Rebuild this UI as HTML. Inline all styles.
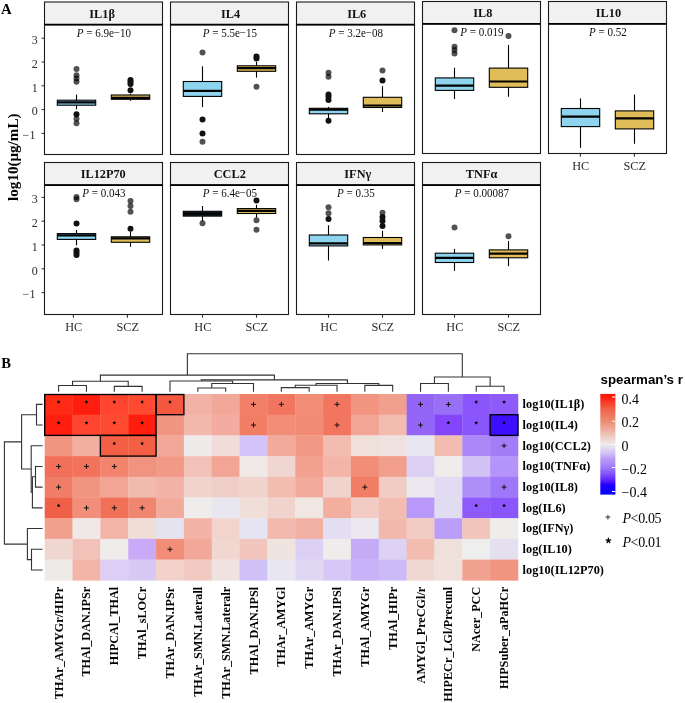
<!DOCTYPE html>
<html><head><meta charset="utf-8"><style>html,body{margin:0;padding:0;background:#fff;width:685px;height:703px;overflow:hidden;}svg{display:block;will-change:transform;}</style></head><body>
<svg width="685" height="703" viewBox="0 0 685 703">
<rect width="685" height="703" fill="#fff"/>
<text x="1" y="13.7" font-family='"Liberation Serif", serif' font-weight="bold" font-size="14.8" fill="#000">A</text>
<text x="1.2" y="367.7" font-family='"Liberation Serif", serif' font-weight="bold" font-size="14.6" fill="#000">B</text>
<text transform="translate(18.2,157.2) rotate(-90)" text-anchor="middle" font-family='"Liberation Serif", serif' font-weight="bold" font-size="15.1" fill="#000">log10(μg/mL)</text>
<rect x="44.5" y="2.0" width="118" height="22.7" fill="#F1F1F1" stroke="#1a1a1a" stroke-width="1.1"/>
<rect x="44.5" y="24.7" width="118" height="129.8" fill="#FFFFFF" stroke="#1a1a1a" stroke-width="1.1"/>
<line x1="44.5" y1="24.7" x2="162.5" y2="24.7" stroke="#000" stroke-width="1.8"/>
<text transform="translate(102.10000000000001,17.9) scale(1,1.05)" text-anchor="middle" font-family='"Liberation Serif", serif' font-weight="bold" font-size="12.3" fill="#111">IL1β</text>
<text transform="translate(103.90,37.0) scale(0.97,1.07)" text-anchor="middle" font-family='"Liberation Serif", serif' font-size="11.4" fill="#111"><tspan font-style="italic">P</tspan> = 6.9e−10</text>
<rect x="170.5" y="2.0" width="118" height="22.7" fill="#F1F1F1" stroke="#1a1a1a" stroke-width="1.1"/>
<rect x="170.5" y="24.7" width="118" height="129.8" fill="#FFFFFF" stroke="#1a1a1a" stroke-width="1.1"/>
<line x1="170.5" y1="24.7" x2="288.5" y2="24.7" stroke="#000" stroke-width="1.8"/>
<text transform="translate(230.5,17.9) scale(1,1.05)" text-anchor="middle" font-family='"Liberation Serif", serif' font-weight="bold" font-size="12.3" fill="#111">IL4</text>
<text transform="translate(229.90,37.0) scale(0.97,1.07)" text-anchor="middle" font-family='"Liberation Serif", serif' font-size="11.4" fill="#111"><tspan font-style="italic">P</tspan> = 5.5e−15</text>
<rect x="296.5" y="2.0" width="118" height="22.7" fill="#F1F1F1" stroke="#1a1a1a" stroke-width="1.1"/>
<rect x="296.5" y="24.7" width="118" height="129.8" fill="#FFFFFF" stroke="#1a1a1a" stroke-width="1.1"/>
<line x1="296.5" y1="24.7" x2="414.5" y2="24.7" stroke="#000" stroke-width="1.8"/>
<text transform="translate(356.7,17.9) scale(1,1.05)" text-anchor="middle" font-family='"Liberation Serif", serif' font-weight="bold" font-size="12.3" fill="#111">IL6</text>
<text transform="translate(355.90,37.0) scale(0.97,1.07)" text-anchor="middle" font-family='"Liberation Serif", serif' font-size="11.4" fill="#111"><tspan font-style="italic">P</tspan> = 3.2e−08</text>
<rect x="422.5" y="1.5" width="118" height="22.3" fill="#F1F1F1" stroke="#1a1a1a" stroke-width="1.1"/>
<rect x="422.5" y="23.8" width="118" height="129.7" fill="#FFFFFF" stroke="#1a1a1a" stroke-width="1.1"/>
<line x1="422.5" y1="23.8" x2="540.5" y2="23.8" stroke="#000" stroke-width="1.8"/>
<text transform="translate(482.8,17.1) scale(1,1.05)" text-anchor="middle" font-family='"Liberation Serif", serif' font-weight="bold" font-size="12.3" fill="#111">IL8</text>
<text transform="translate(481.90,36.1) scale(0.97,1.07)" text-anchor="middle" font-family='"Liberation Serif", serif' font-size="11.4" fill="#111"><tspan font-style="italic">P</tspan> = 0.019</text>
<rect x="548.5" y="1.5" width="118" height="22.3" fill="#F1F1F1" stroke="#1a1a1a" stroke-width="1.1"/>
<rect x="548.5" y="23.8" width="118" height="129.7" fill="#FFFFFF" stroke="#1a1a1a" stroke-width="1.1"/>
<line x1="548.5" y1="23.8" x2="666.5" y2="23.8" stroke="#000" stroke-width="1.8"/>
<text transform="translate(608.4000000000001,17.0) scale(1,1.05)" text-anchor="middle" font-family='"Liberation Serif", serif' font-weight="bold" font-size="12.3" fill="#111">IL10</text>
<text transform="translate(607.90,36.1) scale(0.97,1.07)" text-anchor="middle" font-family='"Liberation Serif", serif' font-size="11.4" fill="#111"><tspan font-style="italic">P</tspan> = 0.52</text>
<rect x="44.5" y="162.5" width="118" height="22.69999999999999" fill="#F1F1F1" stroke="#1a1a1a" stroke-width="1.1"/>
<rect x="44.5" y="185.2" width="118" height="129.3" fill="#FFFFFF" stroke="#1a1a1a" stroke-width="1.1"/>
<line x1="44.5" y1="185.2" x2="162.5" y2="185.2" stroke="#000" stroke-width="1.8"/>
<text transform="translate(103.2,178.0) scale(1,1.05)" text-anchor="middle" font-family='"Liberation Serif", serif' font-weight="bold" font-size="12.3" fill="#111">IL12P70</text>
<text transform="translate(103.90,197.3) scale(0.97,1.07)" text-anchor="middle" font-family='"Liberation Serif", serif' font-size="11.4" fill="#111"><tspan font-style="italic">P</tspan> = 0.043</text>
<rect x="170.5" y="162.5" width="118" height="22.69999999999999" fill="#F1F1F1" stroke="#1a1a1a" stroke-width="1.1"/>
<rect x="170.5" y="185.2" width="118" height="129.3" fill="#FFFFFF" stroke="#1a1a1a" stroke-width="1.1"/>
<line x1="170.5" y1="185.2" x2="288.5" y2="185.2" stroke="#000" stroke-width="1.8"/>
<text transform="translate(229.79999999999998,178.0) scale(1,1.05)" text-anchor="middle" font-family='"Liberation Serif", serif' font-weight="bold" font-size="12.3" fill="#111">CCL2</text>
<text transform="translate(229.90,197.3) scale(0.97,1.07)" text-anchor="middle" font-family='"Liberation Serif", serif' font-size="11.4" fill="#111"><tspan font-style="italic">P</tspan> = 6.4e−05</text>
<rect x="296.5" y="162.5" width="118" height="22.69999999999999" fill="#F1F1F1" stroke="#1a1a1a" stroke-width="1.1"/>
<rect x="296.5" y="185.2" width="118" height="129.3" fill="#FFFFFF" stroke="#1a1a1a" stroke-width="1.1"/>
<line x1="296.5" y1="185.2" x2="414.5" y2="185.2" stroke="#000" stroke-width="1.8"/>
<text transform="translate(357.8,178.0) scale(1,1.05)" text-anchor="middle" font-family='"Liberation Serif", serif' font-weight="bold" font-size="12.3" fill="#111">IFNγ</text>
<text transform="translate(355.90,197.3) scale(0.97,1.07)" text-anchor="middle" font-family='"Liberation Serif", serif' font-size="11.4" fill="#111"><tspan font-style="italic">P</tspan> = 0.35</text>
<rect x="422.5" y="162.5" width="118" height="22.69999999999999" fill="#F1F1F1" stroke="#1a1a1a" stroke-width="1.1"/>
<rect x="422.5" y="185.2" width="118" height="129.3" fill="#FFFFFF" stroke="#1a1a1a" stroke-width="1.1"/>
<line x1="422.5" y1="185.2" x2="540.5" y2="185.2" stroke="#000" stroke-width="1.8"/>
<text transform="translate(481.59999999999997,178.0) scale(1,1.05)" text-anchor="middle" font-family='"Liberation Serif", serif' font-weight="bold" font-size="12.3" fill="#111">TNFα</text>
<text transform="translate(481.90,197.3) scale(0.97,1.07)" text-anchor="middle" font-family='"Liberation Serif", serif' font-size="11.4" fill="#111"><tspan font-style="italic">P</tspan> = 0.00087</text>
<line x1="41.6" y1="38.20" x2="44.5" y2="38.20" stroke="#333" stroke-width="1.1"/>
<text x="37.8" y="44.00" text-anchor="end" font-family='"Liberation Serif", serif' font-size="12" fill="#2B2B2B">3</text>
<line x1="41.6" y1="62.00" x2="44.5" y2="62.00" stroke="#333" stroke-width="1.1"/>
<text x="37.8" y="67.80" text-anchor="end" font-family='"Liberation Serif", serif' font-size="12" fill="#2B2B2B">2</text>
<line x1="41.6" y1="85.80" x2="44.5" y2="85.80" stroke="#333" stroke-width="1.1"/>
<text x="37.8" y="91.60" text-anchor="end" font-family='"Liberation Serif", serif' font-size="12" fill="#2B2B2B">1</text>
<line x1="41.6" y1="109.60" x2="44.5" y2="109.60" stroke="#333" stroke-width="1.1"/>
<text x="37.8" y="115.40" text-anchor="end" font-family='"Liberation Serif", serif' font-size="12" fill="#2B2B2B">0</text>
<line x1="41.6" y1="133.40" x2="44.5" y2="133.40" stroke="#333" stroke-width="1.1"/>
<text x="35.4" y="139.20" text-anchor="end" font-family='"Liberation Serif", serif' font-size="12" fill="#2B2B2B">−1</text>
<line x1="41.6" y1="197.40" x2="44.5" y2="197.40" stroke="#333" stroke-width="1.1"/>
<text x="37.8" y="203.20" text-anchor="end" font-family='"Liberation Serif", serif' font-size="12" fill="#2B2B2B">3</text>
<line x1="41.6" y1="221.20" x2="44.5" y2="221.20" stroke="#333" stroke-width="1.1"/>
<text x="37.8" y="227.00" text-anchor="end" font-family='"Liberation Serif", serif' font-size="12" fill="#2B2B2B">2</text>
<line x1="41.6" y1="245.00" x2="44.5" y2="245.00" stroke="#333" stroke-width="1.1"/>
<text x="37.8" y="250.80" text-anchor="end" font-family='"Liberation Serif", serif' font-size="12" fill="#2B2B2B">1</text>
<line x1="41.6" y1="268.80" x2="44.5" y2="268.80" stroke="#333" stroke-width="1.1"/>
<text x="37.8" y="274.60" text-anchor="end" font-family='"Liberation Serif", serif' font-size="12" fill="#2B2B2B">0</text>
<line x1="41.6" y1="292.60" x2="44.5" y2="292.60" stroke="#333" stroke-width="1.1"/>
<text x="35.4" y="298.40" text-anchor="end" font-family='"Liberation Serif", serif' font-size="12" fill="#2B2B2B">−1</text>
<line x1="580.4" y1="153.5" x2="580.4" y2="156.7" stroke="#333" stroke-width="1.1"/>
<text x="580.6999999999999" y="169.7" text-anchor="middle" font-family='"Liberation Serif", serif' font-size="12.3" fill="#2B2B2B">HC</text>
<line x1="634.4" y1="153.5" x2="634.4" y2="156.7" stroke="#333" stroke-width="1.1"/>
<text x="634.6999999999999" y="169.7" text-anchor="middle" font-family='"Liberation Serif", serif' font-size="12.3" fill="#2B2B2B">SCZ</text>
<line x1="73.4" y1="314.5" x2="73.4" y2="317.7" stroke="#333" stroke-width="1.1"/>
<text x="73.7" y="330.7" text-anchor="middle" font-family='"Liberation Serif", serif' font-size="12.3" fill="#2B2B2B">HC</text>
<line x1="127.4" y1="314.5" x2="127.4" y2="317.7" stroke="#333" stroke-width="1.1"/>
<text x="127.7" y="330.7" text-anchor="middle" font-family='"Liberation Serif", serif' font-size="12.3" fill="#2B2B2B">SCZ</text>
<line x1="202.5" y1="314.5" x2="202.5" y2="317.7" stroke="#333" stroke-width="1.1"/>
<text x="202.8" y="330.7" text-anchor="middle" font-family='"Liberation Serif", serif' font-size="12.3" fill="#2B2B2B">HC</text>
<line x1="256.5" y1="314.5" x2="256.5" y2="317.7" stroke="#333" stroke-width="1.1"/>
<text x="256.8" y="330.7" text-anchor="middle" font-family='"Liberation Serif", serif' font-size="12.3" fill="#2B2B2B">SCZ</text>
<line x1="328.5" y1="314.5" x2="328.5" y2="317.7" stroke="#333" stroke-width="1.1"/>
<text x="328.8" y="330.7" text-anchor="middle" font-family='"Liberation Serif", serif' font-size="12.3" fill="#2B2B2B">HC</text>
<line x1="382.5" y1="314.5" x2="382.5" y2="317.7" stroke="#333" stroke-width="1.1"/>
<text x="382.8" y="330.7" text-anchor="middle" font-family='"Liberation Serif", serif' font-size="12.3" fill="#2B2B2B">SCZ</text>
<line x1="454.5" y1="314.5" x2="454.5" y2="317.7" stroke="#333" stroke-width="1.1"/>
<text x="454.8" y="330.7" text-anchor="middle" font-family='"Liberation Serif", serif' font-size="12.3" fill="#2B2B2B">HC</text>
<line x1="508.5" y1="314.5" x2="508.5" y2="317.7" stroke="#333" stroke-width="1.1"/>
<text x="508.8" y="330.7" text-anchor="middle" font-family='"Liberation Serif", serif' font-size="12.3" fill="#2B2B2B">SCZ</text>
<line x1="76.5" y1="94.6" x2="76.5" y2="109.3" stroke="#000" stroke-width="1.1"/>
<rect x="57.3" y="100.2" width="38.4" height="5.0" fill="#8FD4EF" stroke="#000" stroke-width="1.1"/>
<line x1="57.3" y1="102.4" x2="95.7" y2="102.4" stroke="#000" stroke-width="2.2"/>
<circle cx="76.5" cy="69" r="3.0" fill="rgba(0,0,0,0.68)"/>
<circle cx="76.5" cy="75.2" r="3.0" fill="rgba(0,0,0,0.68)"/>
<circle cx="76.5" cy="78.6" r="3.0" fill="rgba(0,0,0,0.68)"/>
<circle cx="76.5" cy="81.8" r="3.0" fill="rgba(0,0,0,0.68)"/>
<circle cx="76.5" cy="114.2" r="3.0" fill="#111"/>
<circle cx="76.5" cy="118.7" r="3.0" fill="rgba(0,0,0,0.68)"/>
<circle cx="76.5" cy="123.2" r="3.0" fill="rgba(0,0,0,0.68)"/>
<line x1="130.5" y1="93.8" x2="130.5" y2="100.8" stroke="#000" stroke-width="1.1"/>
<rect x="111.3" y="95" width="38.4" height="4.299999999999997" fill="#E0BD58" stroke="#000" stroke-width="1.1"/>
<line x1="111.3" y1="97.9" x2="149.7" y2="97.9" stroke="#000" stroke-width="2.2"/>
<circle cx="130.5" cy="79.9" r="3.0" fill="#111"/>
<circle cx="130.5" cy="81.9" r="3.0" fill="#111"/>
<circle cx="130.5" cy="83.9" r="3.0" fill="#111"/>
<circle cx="130.5" cy="90.3" r="3.0" fill="#111"/>
<line x1="202.5" y1="66.3" x2="202.5" y2="107.1" stroke="#000" stroke-width="1.1"/>
<rect x="183.3" y="81.5" width="38.4" height="14.900000000000006" fill="#8FD4EF" stroke="#000" stroke-width="1.1"/>
<line x1="183.3" y1="90.9" x2="221.7" y2="90.9" stroke="#000" stroke-width="2.2"/>
<circle cx="202.5" cy="52.5" r="3.0" fill="rgba(0,0,0,0.68)"/>
<circle cx="202.5" cy="119.6" r="3.0" fill="#111"/>
<circle cx="202.5" cy="133.5" r="3.0" fill="#111"/>
<circle cx="202.5" cy="141.8" r="3.0" fill="rgba(0,0,0,0.68)"/>
<line x1="256.5" y1="61.9" x2="256.5" y2="77.6" stroke="#000" stroke-width="1.1"/>
<rect x="237.3" y="65.8" width="38.4" height="5.5" fill="#E0BD58" stroke="#000" stroke-width="1.1"/>
<line x1="237.3" y1="68.1" x2="275.7" y2="68.1" stroke="#000" stroke-width="2.2"/>
<circle cx="256.5" cy="56.5" r="3.0" fill="#111"/>
<circle cx="256.5" cy="58.5" r="3.0" fill="#111"/>
<circle cx="256.5" cy="86.7" r="3.0" fill="rgba(0,0,0,0.68)"/>
<line x1="328.5" y1="106.9" x2="328.5" y2="118.3" stroke="#000" stroke-width="1.1"/>
<rect x="309.3" y="108.3" width="38.4" height="5.5" fill="#8FD4EF" stroke="#000" stroke-width="1.1"/>
<line x1="309.3" y1="109.6" x2="347.7" y2="109.6" stroke="#000" stroke-width="2.2"/>
<circle cx="328.5" cy="72.8" r="3.0" fill="rgba(0,0,0,0.68)"/>
<circle cx="328.5" cy="76.8" r="3.0" fill="rgba(0,0,0,0.68)"/>
<circle cx="328.5" cy="94.4" r="3.0" fill="#111"/>
<circle cx="328.5" cy="96.7" r="3.0" fill="#111"/>
<circle cx="328.5" cy="100.1" r="3.0" fill="#111"/>
<circle cx="328.5" cy="120.8" r="3.0" fill="#111"/>
<line x1="382.5" y1="86.2" x2="382.5" y2="112" stroke="#000" stroke-width="1.1"/>
<rect x="363.3" y="97.3" width="38.4" height="10.200000000000003" fill="#E0BD58" stroke="#000" stroke-width="1.1"/>
<line x1="363.3" y1="105.5" x2="401.7" y2="105.5" stroke="#000" stroke-width="2.2"/>
<circle cx="382.5" cy="70.5" r="3.0" fill="rgba(0,0,0,0.68)"/>
<circle cx="382.5" cy="80.5" r="3.0" fill="#111"/>
<line x1="454.5" y1="67.7" x2="454.5" y2="99" stroke="#000" stroke-width="1.1"/>
<rect x="435.3" y="77.9" width="38.4" height="12.5" fill="#8FD4EF" stroke="#000" stroke-width="1.1"/>
<line x1="435.3" y1="85.7" x2="473.7" y2="85.7" stroke="#000" stroke-width="2.2"/>
<circle cx="454.5" cy="30.3" r="3.0" fill="rgba(0,0,0,0.68)"/>
<circle cx="454.5" cy="46.7" r="3.0" fill="rgba(0,0,0,0.68)"/>
<circle cx="454.5" cy="50.1" r="3.0" fill="rgba(0,0,0,0.68)"/>
<circle cx="454.5" cy="53.6" r="3.0" fill="rgba(0,0,0,0.68)"/>
<line x1="508.5" y1="44.9" x2="508.5" y2="96.8" stroke="#000" stroke-width="1.1"/>
<rect x="489.3" y="68.1" width="38.4" height="19.200000000000003" fill="#E0BD58" stroke="#000" stroke-width="1.1"/>
<line x1="489.3" y1="81.5" x2="527.7" y2="81.5" stroke="#000" stroke-width="2.2"/>
<circle cx="508.5" cy="36.1" r="3.0" fill="rgba(0,0,0,0.68)"/>
<line x1="580.5" y1="98.4" x2="580.5" y2="147.8" stroke="#000" stroke-width="1.1"/>
<rect x="561.3" y="108.5" width="38.4" height="18.099999999999994" fill="#8FD4EF" stroke="#000" stroke-width="1.1"/>
<line x1="561.3" y1="116.6" x2="599.7" y2="116.6" stroke="#000" stroke-width="2.2"/>
<line x1="634.5" y1="94.5" x2="634.5" y2="143.8" stroke="#000" stroke-width="1.1"/>
<rect x="615.3" y="110.9" width="38.4" height="18.0" fill="#E0BD58" stroke="#000" stroke-width="1.1"/>
<line x1="615.3" y1="118.4" x2="653.7" y2="118.4" stroke="#000" stroke-width="2.2"/>
<line x1="76.5" y1="230" x2="76.5" y2="245.3" stroke="#000" stroke-width="1.1"/>
<rect x="57.3" y="233.6" width="38.4" height="5.800000000000011" fill="#8FD4EF" stroke="#000" stroke-width="1.1"/>
<line x1="57.3" y1="235.4" x2="95.7" y2="235.4" stroke="#000" stroke-width="2.2"/>
<circle cx="76.5" cy="197" r="3.0" fill="rgba(0,0,0,0.68)"/>
<circle cx="76.5" cy="199.2" r="3.0" fill="rgba(0,0,0,0.68)"/>
<circle cx="76.5" cy="223.4" r="3.0" fill="#111"/>
<circle cx="76.5" cy="250.5" r="3.0" fill="#111"/>
<circle cx="76.5" cy="252.7" r="3.0" fill="#111"/>
<circle cx="76.5" cy="255" r="3.0" fill="#111"/>
<line x1="130.5" y1="231.7" x2="130.5" y2="246.8" stroke="#000" stroke-width="1.1"/>
<rect x="111.3" y="236.8" width="38.4" height="5.5" fill="#E0BD58" stroke="#000" stroke-width="1.1"/>
<line x1="111.3" y1="238.3" x2="149.7" y2="238.3" stroke="#000" stroke-width="2.2"/>
<circle cx="130.5" cy="201" r="3.0" fill="rgba(0,0,0,0.68)"/>
<circle cx="130.5" cy="206.1" r="3.0" fill="rgba(0,0,0,0.68)"/>
<circle cx="130.5" cy="211.8" r="3.0" fill="rgba(0,0,0,0.68)"/>
<circle cx="130.5" cy="228.8" r="3.0" fill="#111"/>
<line x1="202.5" y1="206" x2="202.5" y2="221.1" stroke="#000" stroke-width="1.1"/>
<rect x="183.3" y="211.3" width="38.4" height="4.799999999999983" fill="#16262c" stroke="#000" stroke-width="1.1"/>
<line x1="183.3" y1="213.7" x2="221.7" y2="213.7" stroke="#000" stroke-width="2.2"/>
<circle cx="202.5" cy="223.3" r="3.0" fill="rgba(0,0,0,0.68)"/>
<line x1="256.5" y1="204.8" x2="256.5" y2="217.7" stroke="#000" stroke-width="1.1"/>
<rect x="237.3" y="208.6" width="38.4" height="4.900000000000006" fill="#E0BD58" stroke="#000" stroke-width="1.1"/>
<line x1="237.3" y1="210.9" x2="275.7" y2="210.9" stroke="#000" stroke-width="2.2"/>
<circle cx="256.5" cy="200.6" r="3.0" fill="#111"/>
<circle cx="256.5" cy="220.3" r="3.0" fill="rgba(0,0,0,0.68)"/>
<circle cx="256.5" cy="229.8" r="3.0" fill="rgba(0,0,0,0.68)"/>
<line x1="328.5" y1="225.3" x2="328.5" y2="260.5" stroke="#000" stroke-width="1.1"/>
<rect x="309.3" y="235" width="38.4" height="10.900000000000006" fill="#8FD4EF" stroke="#000" stroke-width="1.1"/>
<line x1="309.3" y1="243.3" x2="347.7" y2="243.3" stroke="#000" stroke-width="2.2"/>
<circle cx="328.5" cy="207.3" r="3.0" fill="rgba(0,0,0,0.68)"/>
<circle cx="328.5" cy="213.2" r="3.0" fill="rgba(0,0,0,0.68)"/>
<circle cx="328.5" cy="219.1" r="3.0" fill="#111"/>
<line x1="382.5" y1="230.7" x2="382.5" y2="248.8" stroke="#000" stroke-width="1.1"/>
<rect x="363.3" y="237.5" width="38.4" height="7.400000000000006" fill="#E0BD58" stroke="#000" stroke-width="1.1"/>
<line x1="363.3" y1="243.0" x2="401.7" y2="243.0" stroke="#000" stroke-width="2.2"/>
<circle cx="382.5" cy="212.7" r="3.0" fill="rgba(0,0,0,0.68)"/>
<circle cx="382.5" cy="216.9" r="3.0" fill="#111"/>
<circle cx="382.5" cy="221.1" r="3.0" fill="#111"/>
<circle cx="382.5" cy="226.1" r="3.0" fill="#111"/>
<line x1="454.5" y1="249" x2="454.5" y2="270.9" stroke="#000" stroke-width="1.1"/>
<rect x="435.3" y="253.2" width="38.4" height="9.300000000000011" fill="#8FD4EF" stroke="#000" stroke-width="1.1"/>
<line x1="435.3" y1="257.8" x2="473.7" y2="257.8" stroke="#000" stroke-width="2.2"/>
<circle cx="454.5" cy="227.6" r="3.0" fill="rgba(0,0,0,0.68)"/>
<line x1="508.5" y1="241" x2="508.5" y2="266.2" stroke="#000" stroke-width="1.1"/>
<rect x="489.3" y="249.9" width="38.4" height="7.900000000000006" fill="#E0BD58" stroke="#000" stroke-width="1.1"/>
<line x1="489.3" y1="253.6" x2="527.7" y2="253.6" stroke="#000" stroke-width="2.2"/>
<circle cx="508.5" cy="236.3" r="3.0" fill="rgba(0,0,0,0.68)"/>
<rect x="44.70" y="394.00" width="28.14" height="21.00" fill="#FF2A14"/>
<rect x="72.54" y="394.00" width="28.14" height="21.00" fill="#FF1E0E"/>
<rect x="100.38" y="394.00" width="28.14" height="21.00" fill="#FF4530"/>
<rect x="128.22" y="394.00" width="28.14" height="21.00" fill="#FF4A32"/>
<rect x="156.06" y="394.00" width="28.14" height="21.00" fill="#F5583E"/>
<rect x="183.90" y="394.00" width="28.14" height="21.00" fill="#F2B3A6"/>
<rect x="211.74" y="394.00" width="28.14" height="21.00" fill="#F2A898"/>
<rect x="239.58" y="394.00" width="28.14" height="21.00" fill="#F28068"/>
<rect x="267.42" y="394.00" width="28.14" height="21.00" fill="#F27560"/>
<rect x="295.26" y="394.00" width="28.14" height="21.00" fill="#F28E78"/>
<rect x="323.10" y="394.00" width="28.14" height="21.00" fill="#F27560"/>
<rect x="350.94" y="394.00" width="28.14" height="21.00" fill="#F29580"/>
<rect x="378.78" y="394.00" width="28.14" height="21.00" fill="#F2A08E"/>
<rect x="406.62" y="394.00" width="28.14" height="21.00" fill="#9366F8"/>
<rect x="434.46" y="394.00" width="28.14" height="21.00" fill="#9A6FF8"/>
<rect x="462.30" y="394.00" width="28.14" height="21.00" fill="#8A55FA"/>
<rect x="490.14" y="394.00" width="28.14" height="21.00" fill="#8E5AFA"/>
<rect x="44.70" y="414.70" width="28.14" height="21.00" fill="#FF1E10"/>
<rect x="72.54" y="414.70" width="28.14" height="21.00" fill="#FF4530"/>
<rect x="100.38" y="414.70" width="28.14" height="21.00" fill="#FF4A32"/>
<rect x="128.22" y="414.70" width="28.14" height="21.00" fill="#FF1E0E"/>
<rect x="156.06" y="414.70" width="28.14" height="21.00" fill="#F29580"/>
<rect x="183.90" y="414.70" width="28.14" height="21.00" fill="#F2B8AC"/>
<rect x="211.74" y="414.70" width="28.14" height="21.00" fill="#F2ACA0"/>
<rect x="239.58" y="414.70" width="28.14" height="21.00" fill="#F27D65"/>
<rect x="267.42" y="414.70" width="28.14" height="21.00" fill="#F28E78"/>
<rect x="295.26" y="414.70" width="28.14" height="21.00" fill="#F28B75"/>
<rect x="323.10" y="414.70" width="28.14" height="21.00" fill="#F27560"/>
<rect x="350.94" y="414.70" width="28.14" height="21.00" fill="#F2A595"/>
<rect x="378.78" y="414.70" width="28.14" height="21.00" fill="#F2BCB0"/>
<rect x="406.62" y="414.70" width="28.14" height="21.00" fill="#9366F8"/>
<rect x="434.46" y="414.70" width="28.14" height="21.00" fill="#8445FA"/>
<rect x="462.30" y="414.70" width="28.14" height="21.00" fill="#8A55FA"/>
<rect x="490.14" y="414.70" width="28.14" height="21.00" fill="#3D0DFF"/>
<rect x="44.70" y="435.40" width="28.14" height="21.00" fill="#F29580"/>
<rect x="72.54" y="435.40" width="28.14" height="21.00" fill="#F2AE9E"/>
<rect x="100.38" y="435.40" width="28.14" height="21.00" fill="#F25F44"/>
<rect x="128.22" y="435.40" width="28.14" height="21.00" fill="#F25F44"/>
<rect x="156.06" y="435.40" width="28.14" height="21.00" fill="#F2A898"/>
<rect x="183.90" y="435.40" width="28.14" height="21.00" fill="#EEEBEA"/>
<rect x="211.74" y="435.40" width="28.14" height="21.00" fill="#F0DCD8"/>
<rect x="239.58" y="435.40" width="28.14" height="21.00" fill="#D3C3F8"/>
<rect x="267.42" y="435.40" width="28.14" height="21.00" fill="#F2AA9A"/>
<rect x="295.26" y="435.40" width="28.14" height="21.00" fill="#F29985"/>
<rect x="323.10" y="435.40" width="28.14" height="21.00" fill="#F2BCB0"/>
<rect x="350.94" y="435.40" width="28.14" height="21.00" fill="#F0E0DA"/>
<rect x="378.78" y="435.40" width="28.14" height="21.00" fill="#F0E2DE"/>
<rect x="406.62" y="435.40" width="28.14" height="21.00" fill="#E8E6F0"/>
<rect x="434.46" y="435.40" width="28.14" height="21.00" fill="#F2BCB0"/>
<rect x="462.30" y="435.40" width="28.14" height="21.00" fill="#AA88F8"/>
<rect x="490.14" y="435.40" width="28.14" height="21.00" fill="#A37DF8"/>
<rect x="44.70" y="456.10" width="28.14" height="21.00" fill="#F2705A"/>
<rect x="72.54" y="456.10" width="28.14" height="21.00" fill="#F2725B"/>
<rect x="100.38" y="456.10" width="28.14" height="21.00" fill="#F2846E"/>
<rect x="128.22" y="456.10" width="28.14" height="21.00" fill="#F29380"/>
<rect x="156.06" y="456.10" width="28.14" height="21.00" fill="#F29A87"/>
<rect x="183.90" y="456.10" width="28.14" height="21.00" fill="#F2C2B8"/>
<rect x="211.74" y="456.10" width="28.14" height="21.00" fill="#F2A595"/>
<rect x="239.58" y="456.10" width="28.14" height="21.00" fill="#F0E9E8"/>
<rect x="267.42" y="456.10" width="28.14" height="21.00" fill="#F0D6D0"/>
<rect x="295.26" y="456.10" width="28.14" height="21.00" fill="#F2A090"/>
<rect x="323.10" y="456.10" width="28.14" height="21.00" fill="#F2B5A8"/>
<rect x="350.94" y="456.10" width="28.14" height="21.00" fill="#F28E78"/>
<rect x="378.78" y="456.10" width="28.14" height="21.00" fill="#F29E8C"/>
<rect x="406.62" y="456.10" width="28.14" height="21.00" fill="#DCD0F4"/>
<rect x="434.46" y="456.10" width="28.14" height="21.00" fill="#EEEDEC"/>
<rect x="462.30" y="456.10" width="28.14" height="21.00" fill="#D2C2F6"/>
<rect x="490.14" y="456.10" width="28.14" height="21.00" fill="#B394F8"/>
<rect x="44.70" y="476.80" width="28.14" height="21.00" fill="#F07E66"/>
<rect x="72.54" y="476.80" width="28.14" height="21.00" fill="#F29580"/>
<rect x="100.38" y="476.80" width="28.14" height="21.00" fill="#F2A595"/>
<rect x="128.22" y="476.80" width="28.14" height="21.00" fill="#F2BAAE"/>
<rect x="156.06" y="476.80" width="28.14" height="21.00" fill="#F2B3A6"/>
<rect x="183.90" y="476.80" width="28.14" height="21.00" fill="#F0D3CC"/>
<rect x="211.74" y="476.80" width="28.14" height="21.00" fill="#F0CEC8"/>
<rect x="239.58" y="476.80" width="28.14" height="21.00" fill="#F0D3CC"/>
<rect x="267.42" y="476.80" width="28.14" height="21.00" fill="#F2BCB0"/>
<rect x="295.26" y="476.80" width="28.14" height="21.00" fill="#F2AA9A"/>
<rect x="323.10" y="476.80" width="28.14" height="21.00" fill="#F0D3CC"/>
<rect x="350.94" y="476.80" width="28.14" height="21.00" fill="#F27D65"/>
<rect x="378.78" y="476.80" width="28.14" height="21.00" fill="#F2CCC4"/>
<rect x="406.62" y="476.80" width="28.14" height="21.00" fill="#EAE8EE"/>
<rect x="434.46" y="476.80" width="28.14" height="21.00" fill="#E2DCF2"/>
<rect x="462.30" y="476.80" width="28.14" height="21.00" fill="#AE8EF8"/>
<rect x="490.14" y="476.80" width="28.14" height="21.00" fill="#9E78F8"/>
<rect x="44.70" y="497.50" width="28.14" height="21.00" fill="#F06048"/>
<rect x="72.54" y="497.50" width="28.14" height="21.00" fill="#F28F7A"/>
<rect x="100.38" y="497.50" width="28.14" height="21.00" fill="#F07058"/>
<rect x="128.22" y="497.50" width="28.14" height="21.00" fill="#F08570"/>
<rect x="156.06" y="497.50" width="28.14" height="21.00" fill="#F2AA9A"/>
<rect x="183.90" y="497.50" width="28.14" height="21.00" fill="#F0ECEC"/>
<rect x="211.74" y="497.50" width="28.14" height="21.00" fill="#E8E6EE"/>
<rect x="239.58" y="497.50" width="28.14" height="21.00" fill="#F0DED8"/>
<rect x="267.42" y="497.50" width="28.14" height="21.00" fill="#F0D3CC"/>
<rect x="295.26" y="497.50" width="28.14" height="21.00" fill="#F0E6E2"/>
<rect x="323.10" y="497.50" width="28.14" height="21.00" fill="#F2AE9F"/>
<rect x="350.94" y="497.50" width="28.14" height="21.00" fill="#F2CCC4"/>
<rect x="378.78" y="497.50" width="28.14" height="21.00" fill="#F2BCB0"/>
<rect x="406.62" y="497.50" width="28.14" height="21.00" fill="#B898F8"/>
<rect x="434.46" y="497.50" width="28.14" height="21.00" fill="#E2DCF2"/>
<rect x="462.30" y="497.50" width="28.14" height="21.00" fill="#8E5AFA"/>
<rect x="490.14" y="497.50" width="28.14" height="21.00" fill="#8A55FA"/>
<rect x="44.70" y="518.20" width="28.14" height="21.00" fill="#F2A08E"/>
<rect x="72.54" y="518.20" width="28.14" height="21.00" fill="#EFE8E6"/>
<rect x="100.38" y="518.20" width="28.14" height="21.00" fill="#F2B5A8"/>
<rect x="128.22" y="518.20" width="28.14" height="21.00" fill="#F0DDD8"/>
<rect x="156.06" y="518.20" width="28.14" height="21.00" fill="#E6E3F0"/>
<rect x="183.90" y="518.20" width="28.14" height="21.00" fill="#F2B3A6"/>
<rect x="211.74" y="518.20" width="28.14" height="21.00" fill="#F2D4CC"/>
<rect x="239.58" y="518.20" width="28.14" height="21.00" fill="#E6E3F2"/>
<rect x="267.42" y="518.20" width="28.14" height="21.00" fill="#F2BAAE"/>
<rect x="295.26" y="518.20" width="28.14" height="21.00" fill="#F2B0A2"/>
<rect x="323.10" y="518.20" width="28.14" height="21.00" fill="#E4DEF2"/>
<rect x="350.94" y="518.20" width="28.14" height="21.00" fill="#EAE8EE"/>
<rect x="378.78" y="518.20" width="28.14" height="21.00" fill="#F2B8AC"/>
<rect x="406.62" y="518.20" width="28.14" height="21.00" fill="#F2CCC4"/>
<rect x="434.46" y="518.20" width="28.14" height="21.00" fill="#BB9EF8"/>
<rect x="462.30" y="518.20" width="28.14" height="21.00" fill="#F2C6BC"/>
<rect x="490.14" y="518.20" width="28.14" height="21.00" fill="#EFEDEC"/>
<rect x="44.70" y="538.90" width="28.14" height="21.00" fill="#F0D6D0"/>
<rect x="72.54" y="538.90" width="28.14" height="21.00" fill="#F2C2B8"/>
<rect x="100.38" y="538.90" width="28.14" height="21.00" fill="#EEEDEC"/>
<rect x="128.22" y="538.90" width="28.14" height="21.00" fill="#C8AAF8"/>
<rect x="156.06" y="538.90" width="28.14" height="21.00" fill="#F28E78"/>
<rect x="183.90" y="538.90" width="28.14" height="21.00" fill="#F2A898"/>
<rect x="211.74" y="538.90" width="28.14" height="21.00" fill="#F2D6D0"/>
<rect x="239.58" y="538.90" width="28.14" height="21.00" fill="#F2C6BC"/>
<rect x="267.42" y="538.90" width="28.14" height="21.00" fill="#F0E4E0"/>
<rect x="295.26" y="538.90" width="28.14" height="21.00" fill="#DCD0F4"/>
<rect x="323.10" y="538.90" width="28.14" height="21.00" fill="#EEEDEC"/>
<rect x="350.94" y="538.90" width="28.14" height="21.00" fill="#C5AAF8"/>
<rect x="378.78" y="538.90" width="28.14" height="21.00" fill="#DDD2F4"/>
<rect x="406.62" y="538.90" width="28.14" height="21.00" fill="#F2BCB0"/>
<rect x="434.46" y="538.90" width="28.14" height="21.00" fill="#F0E0DC"/>
<rect x="462.30" y="538.90" width="28.14" height="21.00" fill="#EEEEEE"/>
<rect x="490.14" y="538.90" width="28.14" height="21.00" fill="#E4E0F0"/>
<rect x="44.70" y="559.60" width="28.14" height="21.00" fill="#EEEAE8"/>
<rect x="72.54" y="559.60" width="28.14" height="21.00" fill="#F2B5A8"/>
<rect x="100.38" y="559.60" width="28.14" height="21.00" fill="#DCCEF4"/>
<rect x="128.22" y="559.60" width="28.14" height="21.00" fill="#D8C8F4"/>
<rect x="156.06" y="559.60" width="28.14" height="21.00" fill="#F2D2CA"/>
<rect x="183.90" y="559.60" width="28.14" height="21.00" fill="#F2CAC2"/>
<rect x="211.74" y="559.60" width="28.14" height="21.00" fill="#F0E2DE"/>
<rect x="239.58" y="559.60" width="28.14" height="21.00" fill="#CFC0F8"/>
<rect x="267.42" y="559.60" width="28.14" height="21.00" fill="#E8E6F0"/>
<rect x="295.26" y="559.60" width="28.14" height="21.00" fill="#E0D8F2"/>
<rect x="323.10" y="559.60" width="28.14" height="21.00" fill="#D6C8F6"/>
<rect x="350.94" y="559.60" width="28.14" height="21.00" fill="#C8B2F8"/>
<rect x="378.78" y="559.60" width="28.14" height="21.00" fill="#CCB9F8"/>
<rect x="406.62" y="559.60" width="28.14" height="21.00" fill="#F0D8D2"/>
<rect x="434.46" y="559.60" width="28.14" height="21.00" fill="#F0E0DC"/>
<rect x="462.30" y="559.60" width="28.14" height="21.00" fill="#F2A290"/>
<rect x="490.14" y="559.60" width="28.14" height="21.00" fill="#F29580"/>
<path d="M58.62,400.00 L59.18,401.28 L60.57,401.42 L59.52,402.34 L59.82,403.71 L58.62,403.00 L57.42,403.71 L57.72,402.34 L56.67,401.42 L58.06,401.28Z" fill="#000"/>
<path d="M86.46,400.00 L87.02,401.28 L88.41,401.42 L87.36,402.34 L87.66,403.71 L86.46,403.00 L85.26,403.71 L85.56,402.34 L84.51,401.42 L85.90,401.28Z" fill="#000"/>
<path d="M114.30,400.00 L114.86,401.28 L116.25,401.42 L115.20,402.34 L115.50,403.71 L114.30,403.00 L113.10,403.71 L113.40,402.34 L112.35,401.42 L113.74,401.28Z" fill="#000"/>
<path d="M142.14,400.00 L142.70,401.28 L144.09,401.42 L143.04,402.34 L143.34,403.71 L142.14,403.00 L140.94,403.71 L141.24,402.34 L140.19,401.42 L141.58,401.28Z" fill="#000"/>
<path d="M169.98,400.00 L170.54,401.28 L171.93,401.42 L170.88,402.34 L171.18,403.71 L169.98,403.00 L168.78,403.71 L169.08,402.34 L168.03,401.42 L169.42,401.28Z" fill="#000"/>
<path d="M58.62,420.70 L59.18,421.98 L60.57,422.12 L59.52,423.04 L59.82,424.41 L58.62,423.70 L57.42,424.41 L57.72,423.04 L56.67,422.12 L58.06,421.98Z" fill="#000"/>
<path d="M86.46,420.70 L87.02,421.98 L88.41,422.12 L87.36,423.04 L87.66,424.41 L86.46,423.70 L85.26,424.41 L85.56,423.04 L84.51,422.12 L85.90,421.98Z" fill="#000"/>
<path d="M114.30,420.70 L114.86,421.98 L116.25,422.12 L115.20,423.04 L115.50,424.41 L114.30,423.70 L113.10,424.41 L113.40,423.04 L112.35,422.12 L113.74,421.98Z" fill="#000"/>
<path d="M142.14,420.70 L142.70,421.98 L144.09,422.12 L143.04,423.04 L143.34,424.41 L142.14,423.70 L140.94,424.41 L141.24,423.04 L140.19,422.12 L141.58,421.98Z" fill="#000"/>
<path d="M114.30,441.40 L114.86,442.68 L116.25,442.82 L115.20,443.74 L115.50,445.11 L114.30,444.40 L113.10,445.11 L113.40,443.74 L112.35,442.82 L113.74,442.68Z" fill="#000"/>
<path d="M142.14,441.40 L142.70,442.68 L144.09,442.82 L143.04,443.74 L143.34,445.11 L142.14,444.40 L140.94,445.11 L141.24,443.74 L140.19,442.82 L141.58,442.68Z" fill="#000"/>
<path d="M58.62,503.50 L59.18,504.78 L60.57,504.92 L59.52,505.84 L59.82,507.21 L58.62,506.50 L57.42,507.21 L57.72,505.84 L56.67,504.92 L58.06,504.78Z" fill="#000"/>
<path d="M476.22,400.00 L476.78,401.28 L478.17,401.42 L477.12,402.34 L477.42,403.71 L476.22,403.00 L475.02,403.71 L475.32,402.34 L474.27,401.42 L475.66,401.28Z" fill="#000"/>
<path d="M504.06,400.00 L504.62,401.28 L506.01,401.42 L504.96,402.34 L505.26,403.71 L504.06,403.00 L502.86,403.71 L503.16,402.34 L502.11,401.42 L503.50,401.28Z" fill="#000"/>
<path d="M448.38,420.70 L448.94,421.98 L450.33,422.12 L449.28,423.04 L449.58,424.41 L448.38,423.70 L447.18,424.41 L447.48,423.04 L446.43,422.12 L447.82,421.98Z" fill="#000"/>
<path d="M476.22,420.70 L476.78,421.98 L478.17,422.12 L477.12,423.04 L477.42,424.41 L476.22,423.70 L475.02,424.41 L475.32,423.04 L474.27,422.12 L475.66,421.98Z" fill="#000"/>
<path d="M504.06,420.70 L504.62,421.98 L506.01,422.12 L504.96,423.04 L505.26,424.41 L504.06,423.70 L502.86,424.41 L503.16,423.04 L502.11,422.12 L503.50,421.98Z" fill="#000"/>
<path d="M476.22,503.50 L476.78,504.78 L478.17,504.92 L477.12,505.84 L477.42,507.21 L476.22,506.50 L475.02,507.21 L475.32,505.84 L474.27,504.92 L475.66,504.78Z" fill="#000"/>
<path d="M504.06,503.50 L504.62,504.78 L506.01,504.92 L504.96,505.84 L505.26,507.21 L504.06,506.50 L502.86,507.21 L503.16,505.84 L502.11,504.92 L503.50,504.78Z" fill="#000"/>
<path d="M251.00,404.35 H256.00 M253.50,401.85 V406.85" stroke="#111" stroke-width="1.0" fill="none"/>
<path d="M278.84,404.35 H283.84 M281.34,401.85 V406.85" stroke="#111" stroke-width="1.0" fill="none"/>
<path d="M334.52,404.35 H339.52 M337.02,401.85 V406.85" stroke="#111" stroke-width="1.0" fill="none"/>
<path d="M418.04,404.35 H423.04 M420.54,401.85 V406.85" stroke="#111" stroke-width="1.0" fill="none"/>
<path d="M445.88,404.35 H450.88 M448.38,401.85 V406.85" stroke="#111" stroke-width="1.0" fill="none"/>
<path d="M251.00,425.05 H256.00 M253.50,422.55 V427.55" stroke="#111" stroke-width="1.0" fill="none"/>
<path d="M334.52,425.05 H339.52 M337.02,422.55 V427.55" stroke="#111" stroke-width="1.0" fill="none"/>
<path d="M418.04,425.05 H423.04 M420.54,422.55 V427.55" stroke="#111" stroke-width="1.0" fill="none"/>
<path d="M501.56,445.75 H506.56 M504.06,443.25 V448.25" stroke="#111" stroke-width="1.0" fill="none"/>
<path d="M56.12,466.45 H61.12 M58.62,463.95 V468.95" stroke="#111" stroke-width="1.0" fill="none"/>
<path d="M83.96,466.45 H88.96 M86.46,463.95 V468.95" stroke="#111" stroke-width="1.0" fill="none"/>
<path d="M111.80,466.45 H116.80 M114.30,463.95 V468.95" stroke="#111" stroke-width="1.0" fill="none"/>
<path d="M56.12,487.15 H61.12 M58.62,484.65 V489.65" stroke="#111" stroke-width="1.0" fill="none"/>
<path d="M362.36,487.15 H367.36 M364.86,484.65 V489.65" stroke="#111" stroke-width="1.0" fill="none"/>
<path d="M501.56,487.15 H506.56 M504.06,484.65 V489.65" stroke="#111" stroke-width="1.0" fill="none"/>
<path d="M83.96,507.85 H88.96 M86.46,505.35 V510.35" stroke="#111" stroke-width="1.0" fill="none"/>
<path d="M111.80,507.85 H116.80 M114.30,505.35 V510.35" stroke="#111" stroke-width="1.0" fill="none"/>
<path d="M139.64,507.85 H144.64 M142.14,505.35 V510.35" stroke="#111" stroke-width="1.0" fill="none"/>
<path d="M167.48,549.25 H172.48 M169.98,546.75 V551.75" stroke="#111" stroke-width="1.0" fill="none"/>
<rect x="44.70" y="394.50" width="111.36" height="40.90" fill="none" stroke="#000" stroke-width="1.35"/>
<rect x="156.06" y="394.50" width="27.84" height="20.20" fill="none" stroke="#000" stroke-width="1.35"/>
<rect x="100.38" y="435.40" width="55.68" height="20.70" fill="none" stroke="#000" stroke-width="1.35"/>
<rect x="490.14" y="414.70" width="27.84" height="20.70" fill="none" stroke="#000" stroke-width="1.35"/>
<text x="522.6" y="408.25" font-family='"Liberation Serif", serif' font-weight="bold" font-size="12.3" fill="#000">log10(IL1β)</text>
<text x="522.6" y="428.95" font-family='"Liberation Serif", serif' font-weight="bold" font-size="12.3" fill="#000">log10(IL4)</text>
<text x="522.6" y="449.65" font-family='"Liberation Serif", serif' font-weight="bold" font-size="12.3" fill="#000">log10(CCL2)</text>
<text x="522.6" y="470.35" font-family='"Liberation Serif", serif' font-weight="bold" font-size="12.3" fill="#000">log10(TNFα)</text>
<text x="522.6" y="491.05" font-family='"Liberation Serif", serif' font-weight="bold" font-size="12.3" fill="#000">log10(IL8)</text>
<text x="522.6" y="511.75" font-family='"Liberation Serif", serif' font-weight="bold" font-size="12.3" fill="#000">log(IL6)</text>
<text x="522.6" y="532.45" font-family='"Liberation Serif", serif' font-weight="bold" font-size="12.3" fill="#000">log(IFNγ)</text>
<text x="522.6" y="553.15" font-family='"Liberation Serif", serif' font-weight="bold" font-size="12.3" fill="#000">log(IL10)</text>
<text x="522.6" y="573.85" font-family='"Liberation Serif", serif' font-weight="bold" font-size="12.3" fill="#000">log10(IL12P70)</text>
<text transform="translate(62.62,586.8) rotate(-90)" text-anchor="end" font-family='"Liberation Serif", serif' font-weight="bold" font-size="12.2" fill="#000">THAr_AMYGr/HIPr</text>
<text transform="translate(90.46,586.8) rotate(-90)" text-anchor="end" font-family='"Liberation Serif", serif' font-weight="bold" font-size="12.2" fill="#000">THAl_DAN.IPSr</text>
<text transform="translate(118.30,586.8) rotate(-90)" text-anchor="end" font-family='"Liberation Serif", serif' font-weight="bold" font-size="12.2" fill="#000">HIPCAl_THAl</text>
<text transform="translate(146.14,586.8) rotate(-90)" text-anchor="end" font-family='"Liberation Serif", serif' font-weight="bold" font-size="12.2" fill="#000">THAl_sLOCr</text>
<text transform="translate(173.98,586.8) rotate(-90)" text-anchor="end" font-family='"Liberation Serif", serif' font-weight="bold" font-size="12.2" fill="#000">THAr_DAN.IPSr</text>
<text transform="translate(201.82,586.8) rotate(-90)" text-anchor="end" font-family='"Liberation Serif", serif' font-weight="bold" font-size="12.2" fill="#000">THAr_SMN.Laterall</text>
<text transform="translate(229.66,586.8) rotate(-90)" text-anchor="end" font-family='"Liberation Serif", serif' font-weight="bold" font-size="12.2" fill="#000">THAr_SMN.Lateralr</text>
<text transform="translate(257.50,586.8) rotate(-90)" text-anchor="end" font-family='"Liberation Serif", serif' font-weight="bold" font-size="12.2" fill="#000">THAl_DAN.IPSl</text>
<text transform="translate(285.34,586.8) rotate(-90)" text-anchor="end" font-family='"Liberation Serif", serif' font-weight="bold" font-size="12.2" fill="#000">THAr_AMYGl</text>
<text transform="translate(313.18,586.8) rotate(-90)" text-anchor="end" font-family='"Liberation Serif", serif' font-weight="bold" font-size="12.2" fill="#000">THAr_AMYGr</text>
<text transform="translate(341.02,586.8) rotate(-90)" text-anchor="end" font-family='"Liberation Serif", serif' font-weight="bold" font-size="12.2" fill="#000">THAr_DAN.IPSl</text>
<text transform="translate(368.86,586.8) rotate(-90)" text-anchor="end" font-family='"Liberation Serif", serif' font-weight="bold" font-size="12.2" fill="#000">THAl_AMYGr</text>
<text transform="translate(396.70,586.8) rotate(-90)" text-anchor="end" font-family='"Liberation Serif", serif' font-weight="bold" font-size="12.2" fill="#000">THAl_HIPr</text>
<text transform="translate(424.54,586.8) rotate(-90)" text-anchor="end" font-family='"Liberation Serif", serif' font-weight="bold" font-size="12.2" fill="#000">AMYGl_PreCGl/r</text>
<text transform="translate(452.38,586.8) rotate(-90)" text-anchor="end" font-family='"Liberation Serif", serif' font-weight="bold" font-size="12.2" fill="#000">HIPECr_LGl/Precunl</text>
<text transform="translate(480.22,586.8) rotate(-90)" text-anchor="end" font-family='"Liberation Serif", serif' font-weight="bold" font-size="12.2" fill="#000">NAcer_PCC</text>
<text transform="translate(508.06,586.8) rotate(-90)" text-anchor="end" font-family='"Liberation Serif", serif' font-weight="bold" font-size="12.2" fill="#000">HIPSuber_aPaHCr</text>
<path d="M58.62,391.80 V385.50 H86.46 V391.80" stroke="#333" stroke-width="1.1" fill="none"/>
<path d="M114.30,391.80 V386.40 H142.14 V391.80" stroke="#333" stroke-width="1.1" fill="none"/>
<path d="M72.54,385.50 V381.30 H128.22 V386.40" stroke="#333" stroke-width="1.1" fill="none"/>
<path d="M197.82,391.80 V388.00 H225.66 V391.80" stroke="#333" stroke-width="1.1" fill="none"/>
<path d="M211.74,388.00 V383.50 H253.50 V391.80" stroke="#333" stroke-width="1.1" fill="none"/>
<path d="M169.98,391.80 V381.00 H232.62 V383.50" stroke="#333" stroke-width="1.1" fill="none"/>
<path d="M281.34,391.80 V387.60 H309.18 V391.80" stroke="#333" stroke-width="1.1" fill="none"/>
<path d="M295.26,387.60 V385.20 H337.02 V391.80" stroke="#333" stroke-width="1.1" fill="none"/>
<path d="M364.86,391.80 V385.40 H392.70 V391.80" stroke="#333" stroke-width="1.1" fill="none"/>
<path d="M316.14,385.20 V383.50 H378.78 V385.40" stroke="#333" stroke-width="1.1" fill="none"/>
<path d="M201.30,381.00 V379.90 H347.46 V383.50" stroke="#333" stroke-width="1.1" fill="none"/>
<path d="M100.38,381.30 V375.10 H274.38 V379.90" stroke="#333" stroke-width="1.1" fill="none"/>
<path d="M420.54,391.80 V383.50 H448.38 V391.80" stroke="#333" stroke-width="1.1" fill="none"/>
<path d="M476.22,391.80 V386.20 H504.06 V391.80" stroke="#333" stroke-width="1.1" fill="none"/>
<path d="M434.46,383.50 V377.00 H490.14 V386.20" stroke="#333" stroke-width="1.1" fill="none"/>
<path d="M187.38,375.10 V353.80 H462.30 V377.00" stroke="#333" stroke-width="1.1" fill="none"/>
<path d="M42.60,404.35 H36.50 V425.05 H42.60" stroke="#333" stroke-width="1.1" fill="none"/>
<path d="M42.60,466.45 H35.50 V487.15 H42.60" stroke="#333" stroke-width="1.1" fill="none"/>
<path d="M35.50,476.80 H32.40 V507.85 H42.60" stroke="#333" stroke-width="1.1" fill="none"/>
<path d="M42.60,445.75 H31.20 V492.32 H32.40" stroke="#333" stroke-width="1.1" fill="none"/>
<path d="M36.50,414.70 H21.60 V469.04 H31.20" stroke="#333" stroke-width="1.1" fill="none"/>
<path d="M42.60,549.25 H31.50 V569.95 H42.60" stroke="#333" stroke-width="1.1" fill="none"/>
<path d="M42.60,528.55 H27.40 V559.60 H31.50" stroke="#333" stroke-width="1.1" fill="none"/>
<path d="M21.60,441.87 H4.40 V544.08 H27.40" stroke="#333" stroke-width="1.1" fill="none"/>
<text x="600.6" y="384.1" font-family='"Liberation Sans", sans-serif' font-weight="bold" font-size="13.3" fill="#000">spearman’s r</text>
<defs><linearGradient id="cb" x1="0" y1="0" x2="0" y2="1"><stop offset="0.0000" stop-color="#FF1408"/><stop offset="0.0308" stop-color="#FF1A0A"/><stop offset="0.0953" stop-color="#F8452A"/><stop offset="0.1698" stop-color="#F06A50"/><stop offset="0.2721" stop-color="#EC8B75"/><stop offset="0.3486" stop-color="#EDAA9A"/><stop offset="0.4240" stop-color="#EDCCC3"/><stop offset="0.5025" stop-color="#EEEBEA"/><stop offset="0.5770" stop-color="#D5C8F5"/><stop offset="0.6465" stop-color="#B89CF8"/><stop offset="0.7309" stop-color="#A07AF8"/><stop offset="0.7984" stop-color="#8050FA"/><stop offset="0.8600" stop-color="#5A20FC"/><stop offset="0.9047" stop-color="#1A00FF"/><stop offset="1.0000" stop-color="#0A00FF"/></linearGradient></defs>
<rect x="600.3" y="393.9" width="15.1" height="100.7" fill="url(#cb)"/>
<line x1="612" y1="397" x2="615.4" y2="397" stroke="#fff" stroke-width="1"/>
<text x="621.6" y="404.1" font-family='"Liberation Serif", serif' font-size="14" fill="#000">0.4</text>
<line x1="612" y1="421.3" x2="615.4" y2="421.3" stroke="#fff" stroke-width="1"/>
<text x="621.6" y="427.3" font-family='"Liberation Serif", serif' font-size="14" fill="#000">0.2</text>
<line x1="612" y1="444.5" x2="615.4" y2="444.5" stroke="#fff" stroke-width="1"/>
<text x="621.6" y="450.7" font-family='"Liberation Serif", serif' font-size="14" fill="#000">0</text>
<line x1="612" y1="467.5" x2="615.4" y2="467.5" stroke="#fff" stroke-width="1"/>
<text x="621.6" y="473.7" font-family='"Liberation Serif", serif' font-size="14" fill="#000">−0.2</text>
<line x1="612" y1="491.5" x2="615.4" y2="491.5" stroke="#fff" stroke-width="1"/>
<text x="621.6" y="497" font-family='"Liberation Serif", serif' font-size="14" fill="#000">−0.4</text>
<path d="M605.5,517.2 H610.3 M607.9,514.9000000000001 V519.5" stroke="#555" stroke-width="1.3" fill="none"/>
<path d="M608.4,540.6 L608.40,538.20 M608.4,540.6 L610.68,539.86 M608.4,540.6 L609.81,542.54 M608.4,540.6 L606.99,542.54 M608.4,540.6 L606.12,539.86 " stroke="#000" stroke-width="1.3" stroke-linecap="round" fill="none"/>
<text x="622.4" y="523" font-family='"Liberation Serif", serif' font-size="14" letter-spacing="-0.35" fill="#000"><tspan font-style="italic">P</tspan>&lt;0.05</text>
<text x="622.4" y="546.9" font-family='"Liberation Serif", serif' font-size="14" letter-spacing="-0.35" fill="#000"><tspan font-style="italic">P</tspan>&lt;0.01</text>
</svg>
</body></html>
